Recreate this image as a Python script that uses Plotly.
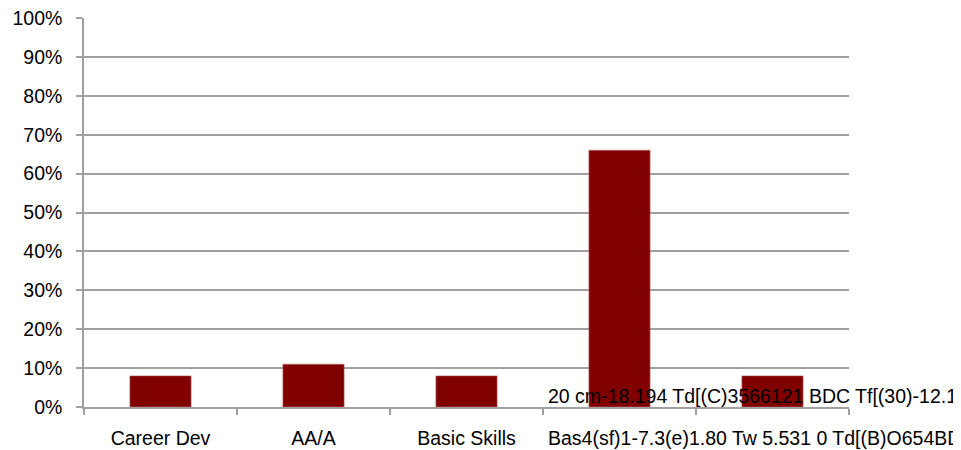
import plotly.graph_objects as go

categories = ["Career Dev", "AA/A", "Basic Skills", "Bas4", "Cat5"]
tick_labels = ["Career Dev", "AA/A", "Basic Skills", "", ""]
values = [0.08, 0.11, 0.08, 0.66, 0.08]
garbled_label = "Bas4(sf)1-7.3(e)1.80 Tw 5.531 0 Td[(B)O654BDC 0.0002 Tc"
overlay_text = "20 cm-18.194 Td[(C)3566121 BDC Tf[(30)-12.1(r)0.6"

FONT = "Liberation Sans"
FS = 19.5

fig = go.Figure()
fig.add_trace(go.Bar(
    x=categories, y=values, width=0.4,
    marker=dict(color="#800000", line=dict(color="#b86a6a", width=0.6)),
))

fig.add_annotation(text=garbled_label, xref="paper", yref="paper",
                   x=(546 - 84) / 765, y=(407 - 438) / 389, xanchor="left", yanchor="middle",
                   showarrow=False, font=dict(family=FONT, size=FS, color="#000"))
fig.add_annotation(text=overlay_text, xref="paper", yref="paper",
                   x=(546 - 84) / 765, y=(407 - 396) / 389, xanchor="left", yanchor="middle",
                   showarrow=False, font=dict(family=FONT, size=FS, color="#000"))

# page body has an 8px margin, so the figure is sized/offset to compensate
fig.update_layout(
    width=953, height=442,
    margin=dict(l=76, r=112, t=10, b=43),
    plot_bgcolor="white", paper_bgcolor="white",
    showlegend=False,
    font=dict(family=FONT, size=FS, color="#000"),
    bargap=0.6,
)
fig.update_xaxes(
    type="category", tickson="boundaries", tickvals=categories, ticktext=tick_labels,
    showline=True, linecolor="#a0a0a0", linewidth=1.5,
    ticks="outside", ticklen=6, tickcolor="#a0a0a0", tickwidth=1.5,
    showgrid=False, range=[-0.5, 4.5], automargin=False, ticklabelstandoff=13,
    ticklabeloverflow="allow",
)
fig.update_yaxes(
    range=[0, 1], tickvals=[i / 10 for i in range(11)], tickformat=".0%",
    showline=True, linecolor="#a0a0a0", linewidth=1.5,
    ticks="outside", ticklen=6, tickcolor="#a0a0a0", tickwidth=1.5,
    showgrid=True, gridcolor="#a0a0a0", gridwidth=1.5,
    zeroline=False, automargin=False, ticklabelstandoff=10,
    ticklabeloverflow="allow",
)

fig.write_html("out.html")
